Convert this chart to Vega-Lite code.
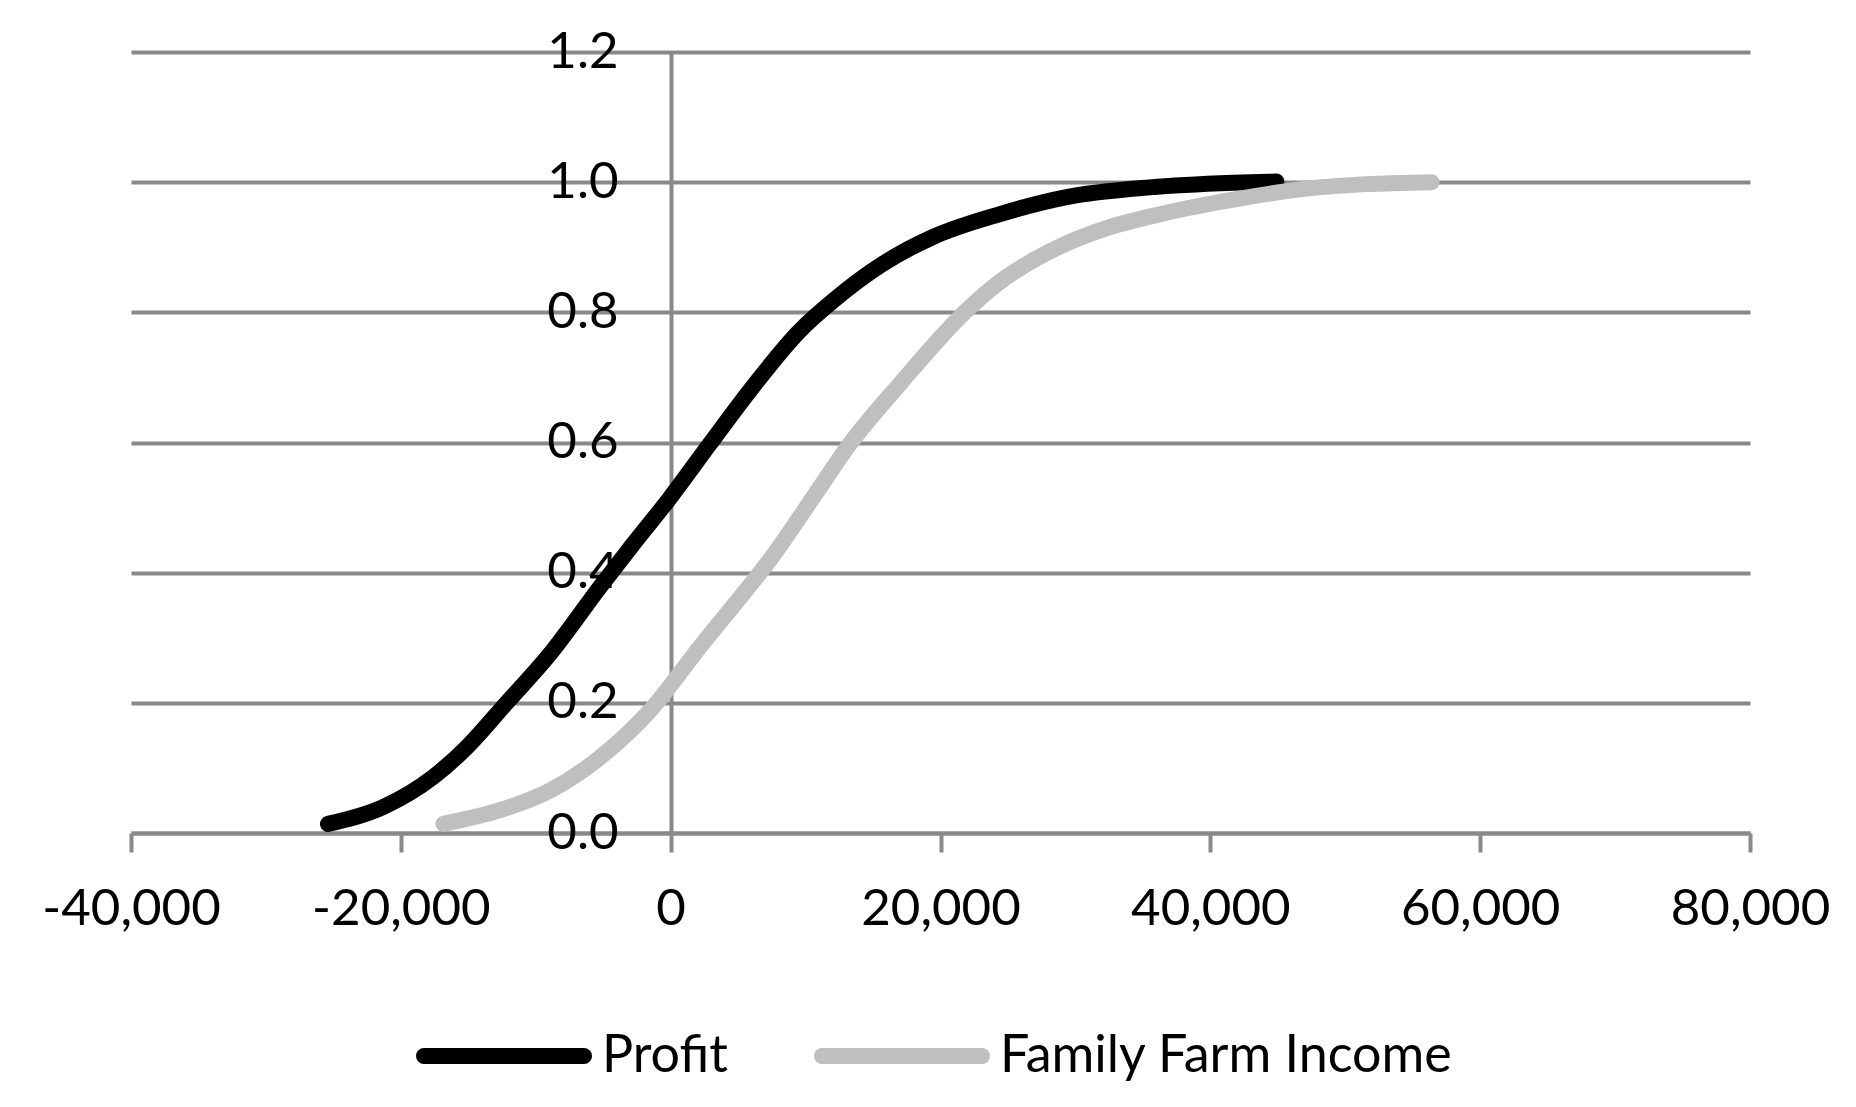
{
  "$schema": "https://vega.github.io/schema/vega-lite/v6.json",
  "width": 1619,
  "height": 781,
  "autosize": {"type": "none"},
  "padding": {"left": 131, "top": 52, "right": 106, "bottom": 274},
  "background": "white",
  "config": {
    "view": {"stroke": null},
    "font": "Lato",
    "axis": {"labelFont": "Lato", "labelFontSize": 51, "labelColor": "#000000"},
    "legend": {"labelFont": "Lato", "labelFontSize": 52, "labelColor": "#000000"}
  },
  "data": {
    "values": [
      {"series": "Profit", "x": -25400, "y": 0.014},
      {"series": "Profit", "x": -21300, "y": 0.04},
      {"series": "Profit", "x": -17600, "y": 0.086},
      {"series": "Profit", "x": -15100, "y": 0.132},
      {"series": "Profit", "x": -12200, "y": 0.199},
      {"series": "Profit", "x": -8950, "y": 0.275},
      {"series": "Profit", "x": -5240, "y": 0.378},
      {"series": "Profit", "x": -2890, "y": 0.441},
      {"series": "Profit", "x": -50, "y": 0.515},
      {"series": "Profit", "x": 2910, "y": 0.598},
      {"series": "Profit", "x": 5880, "y": 0.68},
      {"series": "Profit", "x": 9580, "y": 0.772},
      {"series": "Profit", "x": 12050, "y": 0.818},
      {"series": "Profit", "x": 15760, "y": 0.875},
      {"series": "Profit", "x": 19460, "y": 0.916},
      {"series": "Profit", "x": 24410, "y": 0.951},
      {"series": "Profit", "x": 29350, "y": 0.977},
      {"series": "Profit", "x": 35520, "y": 0.992},
      {"series": "Profit", "x": 41700, "y": 0.999},
      {"series": "Profit", "x": 44900, "y": 1.001},
      {"series": "Family Farm Income", "x": -16850, "y": 0.014},
      {"series": "Family Farm Income", "x": -12650, "y": 0.035},
      {"series": "Family Farm Income", "x": -8950, "y": 0.065},
      {"series": "Family Farm Income", "x": -5240, "y": 0.116},
      {"series": "Family Farm Income", "x": -1530, "y": 0.188},
      {"series": "Family Farm Income", "x": 2170, "y": 0.286},
      {"series": "Family Farm Income", "x": 7860, "y": 0.434},
      {"series": "Family Farm Income", "x": 10570, "y": 0.516},
      {"series": "Family Farm Income", "x": 13290, "y": 0.598},
      {"series": "Family Farm Income", "x": 16990, "y": 0.69},
      {"series": "Family Farm Income", "x": 21940, "y": 0.803},
      {"series": "Family Farm Income", "x": 24410, "y": 0.847},
      {"series": "Family Farm Income", "x": 26880, "y": 0.88},
      {"series": "Family Farm Income", "x": 29350, "y": 0.906},
      {"series": "Family Farm Income", "x": 31820, "y": 0.926},
      {"series": "Family Farm Income", "x": 36760, "y": 0.953},
      {"series": "Family Farm Income", "x": 41700, "y": 0.973},
      {"series": "Family Farm Income", "x": 46640, "y": 0.989},
      {"series": "Family Farm Income", "x": 51590, "y": 0.997},
      {"series": "Family Farm Income", "x": 56400, "y": 1.0}
    ]
  },
  "mark": {"type": "line", "interpolate": "monotone", "strokeWidth": 16, "strokeCap": "round", "strokeJoin": "round"},
  "encoding": {
    "x": {
      "field": "x", "type": "quantitative",
      "scale": {"domain": [-40000, 80000], "nice": false, "zero": false},
      "axis": {
        "title": null,
        "values": [-40000, -20000, 0, 20000, 40000, 60000, 80000],
        "format": ",d",
        "labelExpr": "replace(datum.label, '\u2212', '-')",
        "labelFlush": false,
        "labelBound": false,
        "labelOverlap": false,
        "grid": false,
        "domainColor": "#898989", "domainWidth": 4,
        "tickColor": "#898989", "tickWidth": 4, "tickSize": 19,
        "labelPadding": 32
      }
    },
    "y": {
      "field": "y", "type": "quantitative",
      "scale": {"domain": [0, 1.2], "nice": false},
      "axis": {
        "title": null,
        "values": [0, 0.2, 0.4, 0.6, 0.8, 1.0, 1.2],
        "format": ".1f",
        "offset": -540,
        "ticks": false,
        "grid": true, "gridColor": "#898989", "gridWidth": 4,
        "domainColor": "#898989", "domainWidth": 4,
        "labelPadding": 53,
        "labelBaseline": "middle",
        "labelOverlap": false
      }
    },
    "color": {
      "field": "series", "type": "nominal",
      "scale": {"domain": ["Profit", "Family Farm Income"], "range": ["#000000", "#bfbfbf"]},
      "legend": {
        "title": null,
        "orient": "none",
        "direction": "horizontal",
        "legendX": 285,
        "legendY": 916,
        "padding": 0,
        "symbolType": "stroke",
        "symbolSize": 25600,
        "symbolStrokeWidth": 16,
        "labelOffset": 10,
        "labelLimit": 0,
        "columnPadding": 62,
        "encode": {"symbols": {"update": {"strokeCap": {"value": "round"}}}}
      }
    }
  }
}
